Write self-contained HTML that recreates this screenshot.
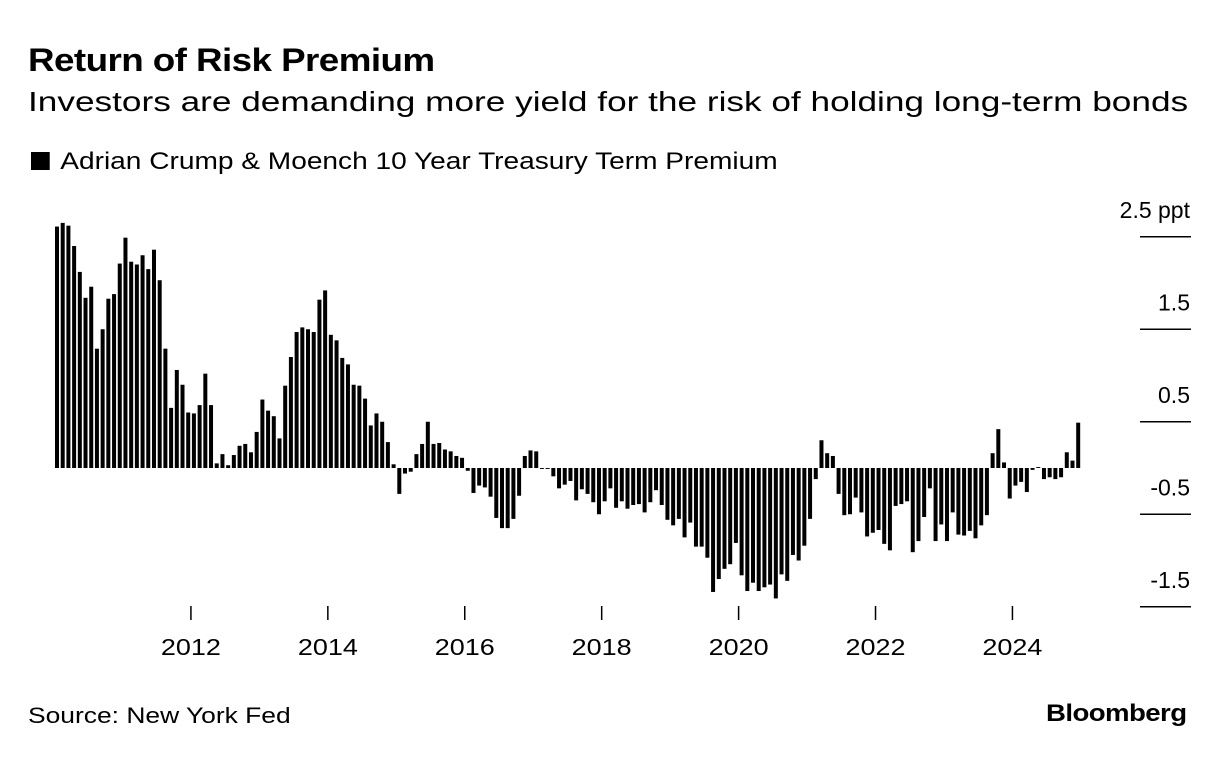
<!DOCTYPE html>
<html><head><meta charset="utf-8"><style>
body{margin:0;background:#fff;width:1224px;height:772px;overflow:hidden;font-family:"Liberation Sans",sans-serif;color:#000}
.t{position:absolute;white-space:nowrap;transform-origin:0 0}
</style></head><body>
<div class="t" style="left:28px;top:42px;font-size:32px;font-weight:bold;letter-spacing:-0.5px;transform:scaleX(1.15)">Return of Risk Premium</div>
<div class="t" style="left:28px;top:86px;font-size:28px;transform:scaleX(1.257)">Investors are demanding more yield for the risk of holding long-term bonds</div>
<div class="t" style="left:31px;top:148px;font-size:24px;transform:scaleX(1.17)"><span style="display:inline-block;width:16px;height:18px;background:#000;margin-right:9px;vertical-align:-1px"></span>Adrian Crump &amp; Moench 10 Year Treasury Term Premium</div>
<svg id="chart" width="1224" height="772" style="position:absolute;left:0;top:0"></svg>
<div class="t" style="left:28px;top:703px;font-size:22px;transform:scaleX(1.2)">Source: New York Fed</div>
<div class="t" style="left:1046px;top:700px;font-size:24px;font-weight:bold;letter-spacing:-0.5px;transform:scaleX(1.15)">Bloomberg</div>
<script>
const values=[2.61,2.65,2.62,2.40,2.12,1.84,1.96,1.29,1.50,1.83,1.88,2.21,2.49,2.23,2.20,2.30,2.15,2.36,2.03,1.29,0.65,1.06,0.90,0.60,0.59,0.68,1.02,0.68,0.05,0.15,
0.03,0.14,0.24,0.26,0.17,0.39,0.74,0.62,0.56,0.32,0.89,1.20,1.47,1.52,1.50,1.47,1.82,1.92,1.44,1.38,1.19,1.12,0.90,0.89,0.75,0.46,0.59,0.50,0.28,0.04,
-0.28,-0.06,-0.04,0.15,0.26,0.50,0.26,0.27,0.20,0.18,0.13,0.11,-0.03,-0.27,-0.19,-0.21,-0.31,-0.54,-0.65,-0.65,-0.55,-0.30,0.13,0.19,0.18,-0.01,-0.01,-0.09,-0.22,-0.18,
-0.14,-0.35,-0.23,-0.28,-0.37,-0.50,-0.36,-0.22,-0.43,-0.36,-0.44,-0.40,-0.39,-0.48,-0.37,-0.24,-0.40,-0.56,-0.62,-0.55,-0.75,-0.59,-0.85,-0.85,-0.97,-1.34,-1.20,-1.09,-1.04,-0.81,
-1.16,-1.33,-1.24,-1.33,-1.29,-1.26,-1.41,-1.15,-1.22,-0.94,-1.00,-0.84,-0.55,-0.12,0.30,0.16,0.13,-0.28,-0.51,-0.50,-0.32,-0.48,-0.74,-0.70,-0.67,-0.82,-0.89,-0.41,-0.39,-0.36,
-0.91,-0.79,-0.53,-0.22,-0.79,-0.61,-0.79,-0.48,-0.72,-0.73,-0.68,-0.76,-0.62,-0.51,0.16,0.42,0.06,-0.33,-0.19,-0.15,-0.26,-0.02,0.01,-0.12,-0.10,-0.12,-0.10,0.17,0.08,0.49];
const yTicks=[2.5,1.5,0.5,-0.5,-1.5];
const yLabels=["2.5 ppt","1.5","0.5","-0.5","-1.5"];
const xYears=[2012,2014,2016,2018,2020,2022,2024];
const startYear=2010;
const svg=document.getElementById('chart');
const NS='http://www.w3.org/2000/svg';
const step=5.705;
const x=i=>55+i*step;
const y=v=>468-v*92.5;
function mk(tag,attrs){const e=document.createElementNS(NS,tag);for(const k in attrs)e.setAttribute(k,attrs[k]);svg.appendChild(e);return e;}
yTicks.forEach((v,i)=>{
  const l=mk('line',{x1:1140,x2:1191,y1:y(v),y2:y(v),stroke:'#000','stroke-width':1.5});
  
  
  const t=mk('text',{x:1190,y:y(v)-19,'text-anchor':'end','font-size':23,'font-family':'Liberation Sans, sans-serif'});
  t.textContent=yLabels[i];
  
  
});
values.forEach((v,i)=>{
  const y0=y(0),y1=y(v);
  const r=mk('rect',{x:x(i),y:Math.min(y0,y1),width:4,height:Math.max(0.8,Math.abs(y1-y0)),fill:'#000'});
  
  
});
xYears.forEach(yr=>{
  const xx=x((yr-startYear)*12)-1;
  const l=mk('line',{x1:xx,x2:xx,y1:606,y2:620,stroke:'#000','stroke-width':1.5});
  
  
  const t=mk('text',{x:xx-30,y:655,'font-size':23,textLength:60,lengthAdjust:'spacingAndGlyphs','font-family':'Liberation Sans, sans-serif'});
  t.textContent=yr;
  
  
});
</script>
</body></html>
